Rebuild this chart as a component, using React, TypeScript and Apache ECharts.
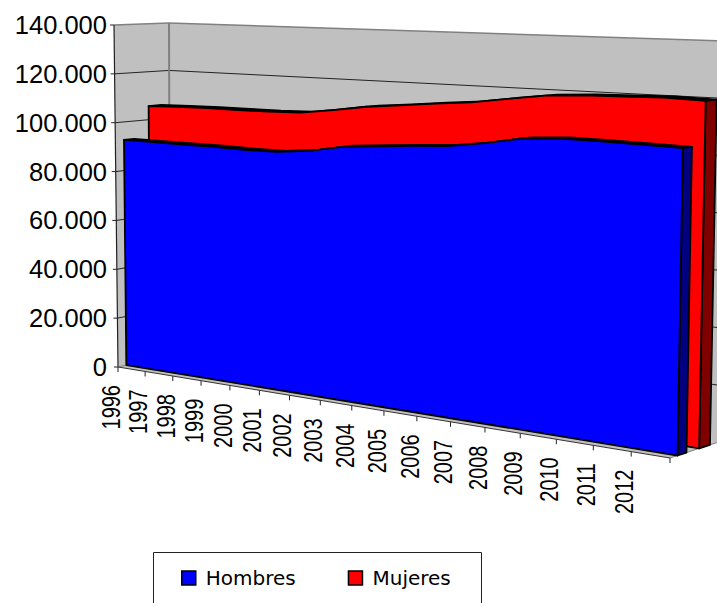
import React, { useEffect, useRef } from "react";
import * as echarts from "echarts";

const years = ["1996","1997","1998","1999","2000","2001","2002","2003","2004","2005","2006","2007","2008","2009","2010","2011","2012"];
const hombres = [92600,92600,92600,92600,92400,92500,93900,96400,97500,98600,99500,101500,104100,105000,104900,104700,104500];
const mujeres = [105700,106100,106400,106400,106500,106900,108700,110800,112100,113500,114700,116800,118700,119500,119800,120200,119800];
const yTicks = [0,20000,40000,60000,80000,100000,120000,140000];

const GRID = { left: 116, top: 25, width: 554, height: 342 };
const YMAX = 140000;
const WALL = "#C0C0C0";
const EDGE = "#808080";

type Pt = [number, number];
const FTL: Pt = [114, 25], FBL: Pt = [118, 367], FTR: Pt = [677, 44], FBR: Pt = [670, 458];
const BTL: Pt = [169, 23], BBL: Pt = [170, 355], BTR: Pt = [725, 41], BBR: Pt = [717, 442.5];
const PERSP = 1.21;

const lerp = (a: Pt, b: Pt, k: number): Pt => [a[0] + (b[0] - a[0]) * k, a[1] + (b[1] - a[1]) * k];
const persp = (t: number) => (t <= 0 ? 0 : t / (t + PERSP * (1 - t)));
function project(t: number, v: number, d: number): Pt {
  const s = persp(t);
  const front = lerp(lerp(FBL, FBR, s), lerp(FTL, FTR, s), v);
  const back = lerp(lerp(BBL, BBR, s), lerp(BTL, BTR, s), v);
  return lerp(front, back, d);
}
const toUnit = (p: number[]) => [(p[0] - GRID.left) / GRID.width, (GRID.top + GRID.height - p[1]) / GRID.height];

const line = (a: Pt, b: Pt, stroke: string, lineWidth: number) => ({
  type: "line",
  shape: { x1: a[0], y1: a[1], x2: b[0], y2: b[1] },
  style: { stroke, lineWidth, fill: "none" },
  silent: true,
});
const poly = (points: Pt[], fill: string, stroke = "#000", lineWidth = 1.8) => ({
  type: "polygon",
  shape: { points },
  style: { fill, stroke, lineWidth, lineJoin: "round" },
  silent: true,
});

function slab(name: string, values: number[], color: string, dark: string, d0: number, d1: number, z: number) {
  return {
    name,
    type: "custom",
    coordinateSystem: "cartesian2d",
    z,
    silent: true,
    itemStyle: { color },
    encode: { x: 0, y: 1 },
    data: values.map((v, i) => [i, v]),
    renderItem: (params: any, api: any) => {
      if (params.dataIndex !== 0) return null;
      const tops = values.map((_, i) => toUnit(api.coord([i, api.value(1, i)])));
      const base0 = toUnit(api.coord([0, 0]));
      const base1 = toUnit(api.coord([values.length - 1, 0]));
      const front = tops.map((u) => project(u[0], u[1], d0));
      const back = tops.map((u) => project(u[0], u[1], d1));
      const last = tops[tops.length - 1];
      const fb0 = project(base0[0], 0, d0);
      const fb1 = project(base1[0], 0, d0);
      const bb1 = project(base1[0], 0, d1);
      return {
        type: "group",
        children: [
          poly([...back, ...front.slice().reverse()], "#000"),
          poly([project(last[0], last[1], d0), project(last[0], last[1], d1), bb1, fb1], dark),
          poly([fb0, ...front, fb1], color),
        ],
      };
    },
  };
}

const wallsSeries = {
  name: "walls",
  type: "custom",
  coordinateSystem: "cartesian2d",
  z: 1,
  silent: true,
  data: [[0, 0]],
  renderItem: (_p: any, api: any) => {
    const gridUnits = yTicks.map((v) => toUnit(api.coord([0, v]))[1]);
    const children: any[] = [
      poly([FTL, BTL, BBL, FBL], WALL, "none", 0),
      poly([BTL, BTR, BBR, BBL], WALL, "none", 0),
      poly([FBL, BBL, BBR, FBR], WALL, "none", 0),
    ];
    gridUnits.forEach((v, i) => {
      const a = project(0, v, 0), b = project(0, v, 1), c = project(1, v, 1);
      if (i > 0 && i < gridUnits.length - 1) {
        children.push(line(a, b, "#222", 1), line(b, c, "#222", 1));
      }
      children.push(line([a[0] - 4, a[1]], a, "#222", 1));
    });
    children.push(
      line(FTL, BTL, EDGE, 1.5),
      line(BTL, BTR, EDGE, 1.5),
      line(BTL, BBL, EDGE, 2),
      line(FTL, FBL, "#222", 1.2),
      line(FBL, BBL, EDGE, 1),
      line(FBR, BBR, EDGE, 1)
    );
    return { type: "group", children };
  },
};

const xAxisSeries = {
  name: "xaxis",
  type: "custom",
  coordinateSystem: "cartesian2d",
  z: 5,
  silent: true,
  data: years.map((_, i) => [i, 0]),
  renderItem: (params: any) => {
    const j = params.dataIndex;
    const p = project(j / years.length, 0, 0);
    const children: any[] = [
      line(p, [p[0], p[1] + 5], "#222", 1),
      {
        type: "text",
        x: p[0] - 6.5,
        y: p[1] + 18,
        rotation: Math.PI / 2,
        scaleX: 0.8,
        silent: true,
        style: {
          text: years[j],
          align: "right",
          verticalAlign: "middle",
          fontFamily: "Liberation Sans",
          fontSize: 25,
          fill: "#000",
        },
      },
    ];
    if (j === years.length - 1) {
      const e = project(1, 0, 0);
      children.push(line(e, [e[0], e[1] + 5], "#222", 1));
      children.push(line(FBL, FBR, "#333", 1));
    }
    return { type: "group", children };
  },
};

export default function App() {
  const ref = useRef<HTMLDivElement>(null);
  useEffect(() => {
    document.body.style.margin = "0";
    const chart = echarts.init(ref.current!, null, { renderer: "svg" });
    chart.setOption({
      animation: false,
      backgroundColor: "#fff",
      grid: { ...GRID },
      xAxis: { type: "category", data: years, boundaryGap: false, show: false },
      yAxis: {
        type: "value",
        min: 0,
        max: YMAX,
        interval: 20000,
        axisLine: { show: false },
        axisTick: { show: false },
        splitLine: { show: false },
        axisLabel: {
          margin: 9,
          color: "#000",
          fontFamily: "Liberation Sans",
          fontSize: 25.5,
          formatter: (v: number) => (v === 0 ? "0" : `${v / 1000}.000`),
        },
      },
      legend: {
        data: ["Hombres", "Mujeres"],
        left: 181,
        top: 568,
        padding: 0,
        itemWidth: 14,
        itemHeight: 14,
        itemGap: 52,
        icon: "rect",
        itemStyle: { borderColor: "#000", borderWidth: 1.5 },
        textStyle: { fontFamily: "DejaVu Sans", fontSize: 20, color: "#000", padding: [0, 0, 0, 5] },
      },
      graphic: [
        {
          type: "polyline",
          silent: true,
          shape: { points: [[153.5, 603], [153.5, 552.5], [481.5, 552.5], [481.5, 603]] },
          style: { stroke: "#222", lineWidth: 1, fill: "none" },
        },
      ],
      series: [
        wallsSeries,
        slab("Mujeres", mujeres, "#FF0000", "#800000", 0.62, 0.85, 3),
        slab("Hombres", hombres, "#0000FF", "#000080", 0.16, 0.35, 4),
        xAxisSeries,
      ],
    });
    return () => chart.dispose();
  }, []);
  return <div ref={ref} style={{ position: "absolute", left: 0, top: 0, width: 717, height: 603 }} />;
}
